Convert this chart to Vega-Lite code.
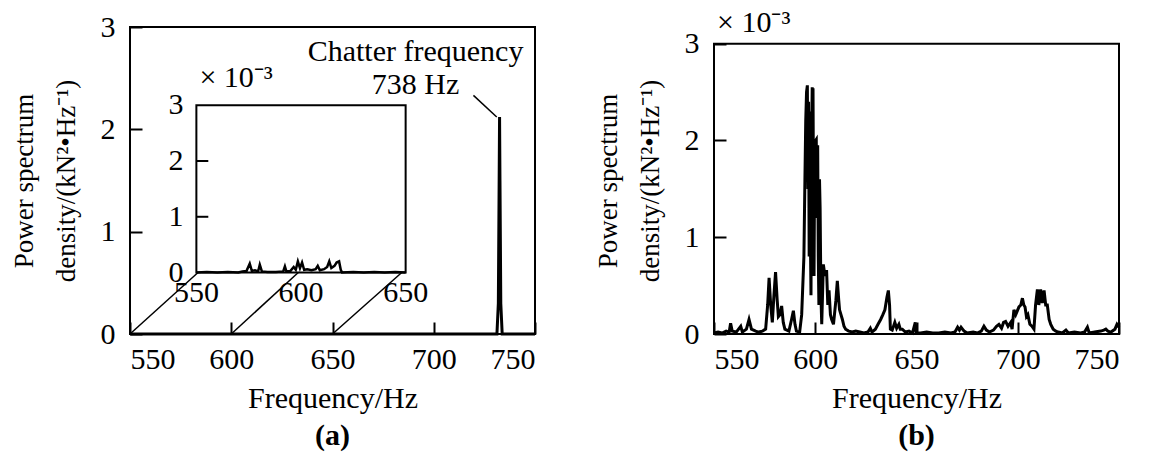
{
  "$schema": "https://vega.github.io/schema/vega-lite/v6.json",
  "background": "white",
  "padding": {"left": 9, "top": 7, "right": 0, "bottom": 0},
  "config": {
    "font": "Liberation Serif",
    "view": {"stroke": "black", "strokeWidth": 2},
    "axis": {
      "labelFont": "Liberation Serif", "labelFontSize": 30, "labelColor": "black",
      "titleFont": "Liberation Serif", "titleFontSize": 30, "titleFontWeight": "normal", "titleColor": "black",
      "grid": false, "domain": false, "tickColor": "black", "tickSize": -12, "tickWidth": 2, "format": "d"
    },
    "axisX": {"labelPadding": 22, "titlePadding": 9},
    "axisY": {"labelPadding": 27, "titlePadding": 20, "titleLineHeight": 42, "titleFontSize": 27},
    "text": {"font": "Liberation Serif", "fontSize": 30, "color": "black"},
    "title": {"font": "Liberation Serif", "fontSize": 30, "fontWeight": "bold", "color": "black"}
  },
  "datasets": {
    "a": [
      {"f": 550, "v": 0}, {"f": 600, "v": 0}, {"f": 650, "v": 0}, {"f": 700, "v": 0},
      {"f": 731.2, "v": 0}, {"f": 731.9, "v": 0.3}, {"f": 732.3, "v": 1.5}, {"f": 732.5, "v": 2.12},
      {"f": 732.7, "v": 1.5}, {"f": 733.1, "v": 0.3}, {"f": 733.8, "v": 0}, {"f": 750, "v": 0}
    ],
    "ainset": [
      {"f": 550, "v": 0.0}, {"f": 555, "v": 0.01}, {"f": 560, "v": 0.0}, {"f": 565, "v": 0.01},
      {"f": 570, "v": 0.0}, {"f": 572, "v": 0.02}, {"f": 574, "v": 0.03}, {"f": 575.5, "v": 0.16},
      {"f": 576.5, "v": 0.03}, {"f": 578, "v": 0.04}, {"f": 579.5, "v": 0.02}, {"f": 580.3, "v": 0.14},
      {"f": 581.3, "v": 0.02}, {"f": 584, "v": 0.01}, {"f": 588, "v": 0.01}, {"f": 591.5, "v": 0.02},
      {"f": 592.3, "v": 0.11}, {"f": 593, "v": 0.02}, {"f": 595, "v": 0.03}, {"f": 596.5, "v": 0.1},
      {"f": 597.5, "v": 0.05}, {"f": 598.5, "v": 0.2}, {"f": 599.5, "v": 0.08}, {"f": 600.5, "v": 0.18},
      {"f": 601.5, "v": 0.05}, {"f": 603, "v": 0.06}, {"f": 605, "v": 0.04}, {"f": 607, "v": 0.06},
      {"f": 608, "v": 0.12}, {"f": 609, "v": 0.04}, {"f": 611, "v": 0.06}, {"f": 612.5, "v": 0.1},
      {"f": 613.5, "v": 0.2}, {"f": 614.5, "v": 0.08}, {"f": 616, "v": 0.12}, {"f": 617, "v": 0.18},
      {"f": 618.2, "v": 0.2}, {"f": 619, "v": 0.05}, {"f": 619.6, "v": 0.0}, {"f": 625, "v": 0.01},
      {"f": 630, "v": 0.0}, {"f": 635, "v": 0.01}, {"f": 640, "v": 0.0}, {"f": 645, "v": 0.01},
      {"f": 650, "v": 0.0}
    ],
    "b": [
      {"f": 550, "v": 0.01}, {"f": 552, "v": 0.02}, {"f": 554, "v": 0.01}, {"f": 556, "v": 0.03},
      {"f": 557.5, "v": 0.02}, {"f": 558.2, "v": 0.11}, {"f": 559, "v": 0.03}, {"f": 561, "v": 0.02},
      {"f": 563.2, "v": 0.08}, {"f": 564, "v": 0.02}, {"f": 566, "v": 0.05}, {"f": 567.3, "v": 0.15},
      {"f": 568.5, "v": 0.05}, {"f": 570.6, "v": 0.03}, {"f": 572, "v": 0.02}, {"f": 573.9, "v": 0.03},
      {"f": 575.5, "v": 0.05}, {"f": 576.5, "v": 0.3}, {"f": 577.2, "v": 0.58}, {"f": 578, "v": 0.3},
      {"f": 578.8, "v": 0.12}, {"f": 579.6, "v": 0.4}, {"f": 580.4, "v": 0.64}, {"f": 581.2, "v": 0.35},
      {"f": 581.8, "v": 0.18}, {"f": 582.6, "v": 0.2}, {"f": 583.4, "v": 0.29}, {"f": 584.2, "v": 0.12},
      {"f": 585, "v": 0.05}, {"f": 587, "v": 0.03}, {"f": 588.3, "v": 0.15}, {"f": 589.2, "v": 0.24},
      {"f": 590, "v": 0.1}, {"f": 590.7, "v": 0.03}, {"f": 592.3, "v": 0.02}, {"f": 593.3, "v": 0.2},
      {"f": 594.4, "v": 0.8}, {"f": 594.9, "v": 1.6}, {"f": 595.3, "v": 2.2}, {"f": 595.7, "v": 2.5},
      {"f": 596.1, "v": 2.57}, {"f": 596.4, "v": 1.5}, {"f": 596.7, "v": 2.4}, {"f": 597.0, "v": 0.8},
      {"f": 597.3, "v": 2.3}, {"f": 597.6, "v": 1.0}, {"f": 597.9, "v": 0.4}, {"f": 598.2, "v": 2.0},
      {"f": 598.5, "v": 2.55}, {"f": 598.7, "v": 1.2}, {"f": 598.9, "v": 2.54}, {"f": 599.2, "v": 1.0},
      {"f": 599.4, "v": 0.6}, {"f": 599.7, "v": 1.8}, {"f": 599.9, "v": 1.4}, {"f": 600.2, "v": 2.0},
      {"f": 600.5, "v": 2.01}, {"f": 600.8, "v": 1.2}, {"f": 601.2, "v": 1.95}, {"f": 601.5, "v": 0.8},
      {"f": 601.8, "v": 0.3}, {"f": 602.1, "v": 1.6}, {"f": 602.4, "v": 1.3}, {"f": 602.8, "v": 0.4},
      {"f": 603.2, "v": 0.1}, {"f": 604, "v": 0.72},
      {"f": 604.8, "v": 0.6}, {"f": 605.6, "v": 0.66}, {"f": 606.2, "v": 0.3}, {"f": 606.8, "v": 0.45},
      {"f": 607.5, "v": 0.2}, {"f": 608.1, "v": 0.15}, {"f": 609, "v": 0.1}, {"f": 610.2, "v": 0.35},
      {"f": 610.9, "v": 0.55}, {"f": 611.6, "v": 0.35}, {"f": 612, "v": 0.25}, {"f": 613.4, "v": 0.15},
      {"f": 614.2, "v": 0.08}, {"f": 615, "v": 0.05}, {"f": 616.5, "v": 0.03}, {"f": 618.3, "v": 0.02},
      {"f": 620, "v": 0.03}, {"f": 622, "v": 0.02}, {"f": 624, "v": 0.01}, {"f": 626, "v": 0.02},
      {"f": 627.2, "v": 0.06}, {"f": 628, "v": 0.02}, {"f": 629.7, "v": 0.05}, {"f": 631, "v": 0.1},
      {"f": 632.3, "v": 0.15}, {"f": 633.4, "v": 0.2}, {"f": 634.4, "v": 0.25}, {"f": 635.4, "v": 0.38},
      {"f": 636.1, "v": 0.45}, {"f": 636.7, "v": 0.3}, {"f": 637.1, "v": 0.05}, {"f": 638, "v": 0.04},
      {"f": 639.3, "v": 0.12}, {"f": 640.2, "v": 0.06}, {"f": 641.3, "v": 0.1}, {"f": 642, "v": 0.05},
      {"f": 643, "v": 0.05}, {"f": 644.5, "v": 0.02}, {"f": 646.3, "v": 0.03}, {"f": 648, "v": 0.01},
      {"f": 649.4, "v": 0.12}, {"f": 649.8, "v": 0.01}, {"f": 652, "v": 0.01}, {"f": 655, "v": 0.02},
      {"f": 658, "v": 0.01}, {"f": 661, "v": 0.01}, {"f": 664, "v": 0.02}, {"f": 667, "v": 0.01},
      {"f": 669, "v": 0.02}, {"f": 670.3, "v": 0.07}, {"f": 671.2, "v": 0.04}, {"f": 672, "v": 0.07},
      {"f": 673.5, "v": 0.03}, {"f": 675, "v": 0.01}, {"f": 678, "v": 0.02}, {"f": 680, "v": 0.01},
      {"f": 682, "v": 0.03}, {"f": 683.3, "v": 0.08}, {"f": 684.5, "v": 0.04}, {"f": 686, "v": 0.02},
      {"f": 688, "v": 0.04}, {"f": 689.5, "v": 0.08}, {"f": 690.7, "v": 0.1}, {"f": 692, "v": 0.06},
      {"f": 693, "v": 0.12}, {"f": 694, "v": 0.13}, {"f": 695.2, "v": 0.08}, {"f": 696.5, "v": 0.12},
      {"f": 697.2, "v": 0.05}, {"f": 698.1, "v": 0.25}, {"f": 699, "v": 0.2}, {"f": 700.6, "v": 0.28},
      {"f": 701.5, "v": 0.3}, {"f": 702.3, "v": 0.37}, {"f": 703, "v": 0.3}, {"f": 703.6, "v": 0.28},
      {"f": 704.3, "v": 0.18}, {"f": 705, "v": 0.2}, {"f": 706, "v": 0.1}, {"f": 707, "v": 0.08},
      {"f": 708, "v": 0.05}, {"f": 708.8, "v": 0.3}, {"f": 709.7, "v": 0.46}, {"f": 710.4, "v": 0.3},
      {"f": 711.3, "v": 0.46}, {"f": 712.1, "v": 0.32}, {"f": 713, "v": 0.45}, {"f": 713.8, "v": 0.3},
      {"f": 714.6, "v": 0.3}, {"f": 715.5, "v": 0.15}, {"f": 716.3, "v": 0.1}, {"f": 717.5, "v": 0.05},
      {"f": 718.8, "v": 0.03}, {"f": 720, "v": 0.02}, {"f": 722, "v": 0.01}, {"f": 723.8, "v": 0.04},
      {"f": 725, "v": 0.01}, {"f": 728, "v": 0.02}, {"f": 731, "v": 0.01}, {"f": 733, "v": 0.02},
      {"f": 734.4, "v": 0.07}, {"f": 735.3, "v": 0.01}, {"f": 738, "v": 0.02}, {"f": 741, "v": 0.03},
      {"f": 742.5, "v": 0.04}, {"f": 743.5, "v": 0.05}, {"f": 744.5, "v": 0.03}, {"f": 746, "v": 0.02},
      {"f": 748, "v": 0.05}, {"f": 749, "v": 0.1}, {"f": 750, "v": 0.07}
    ],
    "conn": [
      {"f": 550, "v": 0, "f2": 583.6, "v2": 0.601},
      {"f": 600, "v": 0, "f2": 633.1, "v2": 0.601},
      {"f": 650, "v": 0, "f2": 684.2, "v2": 0.601}
    ],
    "leader": [{"f": 719.6, "v": 2.332, "f2": 731.1, "v2": 2.121}],
    "frame": [{"x0": 550, "x1": 650, "y0": 0, "y1": 3}],
    "bframe": [{"x0": 550, "x1": 750, "y0": 0, "y1": 3}],
    "iticks": [{"v": 1}, {"v": 2}],
    "ylabs": [{"v": 0}, {"v": 1}, {"v": 2}, {"v": 3}],
    "xlabs": [{"f": 550}, {"f": 600}, {"f": 650}]
  },
  "spacing": 52,
  "hconcat": [
    {
      "width": 405,
      "height": 307,
      "title": {"text": "(a)", "orient": "bottom", "anchor": "middle", "offset": 8},
      "resolve": {"scale": {"x": "independent", "y": "independent"}},
      "layer": [
        {
          "layer": [
            {
              "data": {"name": "a"},
              "mark": {"type": "line", "color": "black", "strokeWidth": 3},
              "encoding": {
                "x": {"field": "f", "type": "quantitative", "scale": {"domain": [550, 750], "nice": false, "zero": false},
                      "axis": {"values": [550, 600, 650, 700, 750], "title": "Frequency/Hz"}},
                "y": {"field": "v", "type": "quantitative", "scale": {"domain": [0, 3], "nice": false},
                      "axis": {"values": [0, 1, 2, 3], "title": ["Power spectrum", "density/(kN²•Hz⁻¹)"]}}
              }
            },
            {
              "data": {"name": "conn"},
              "mark": {"type": "rule", "color": "black", "strokeWidth": 1.5},
              "encoding": {
                "x": {"field": "f", "type": "quantitative"},
                "y": {"field": "v", "type": "quantitative"},
                "x2": {"field": "f2"},
                "y2": {"field": "v2"}
              }
            },
            {
              "data": {"name": "leader"},
              "mark": {"type": "rule", "color": "black", "strokeWidth": 1.5},
              "encoding": {
                "x": {"field": "f", "type": "quantitative"},
                "y": {"field": "v", "type": "quantitative"},
                "x2": {"field": "f2"},
                "y2": {"field": "v2"}
              }
            },
            {
              "data": {"values": [{}]},
              "mark": {"type": "text", "text": ["Chatter frequency", "738 Hz"], "align": "center", "baseline": "top", "lineHeight": 33, "fontSize": 30},
              "encoding": {
                "x": {"datum": 691, "type": "quantitative"},
                "y": {"datum": 2.9, "type": "quantitative"}
              }
            }
          ]
        },
        {
          "layer": [
            {
              "data": {"name": "frame"},
              "mark": {"type": "rect", "fill": "white", "stroke": "black", "strokeWidth": 2},
              "encoding": {
                "x": {"field": "x0", "type": "quantitative", "scale": {"domain": [518.28, 711.82], "nice": false, "zero": false}, "axis": null},
                "x2": {"field": "x1"},
                "y": {"field": "y0", "type": "quantitative", "scale": {"domain": [-1.102, 4.403], "nice": false, "zero": false}, "axis": null},
                "y2": {"field": "y1"}
              }
            },
            {
              "data": {"name": "ainset"},
              "mark": {"type": "line", "color": "black", "strokeWidth": 2.5},
              "encoding": {
                "x": {"field": "f", "type": "quantitative", "scale": {"domain": [518.28, 711.82], "nice": false, "zero": false}, "axis": null},
                "y": {"field": "v", "type": "quantitative", "scale": {"domain": [-1.102, 4.403], "nice": false, "zero": false}, "axis": null}
              }
            },
            {
              "data": {"name": "iticks"},
              "mark": {"type": "rule", "color": "black", "strokeWidth": 2},
              "encoding": {
                "x": {"datum": 550, "type": "quantitative", "scale": {"domain": [518.28, 711.82], "nice": false, "zero": false}, "axis": null},
                "x2": {"datum": 555.7},
                "y": {"field": "v", "type": "quantitative", "scale": {"domain": [-1.102, 4.403], "nice": false, "zero": false}, "axis": null}
              }
            },
            {
              "data": {"name": "ylabs"},
              "mark": {"type": "text", "align": "right", "baseline": "middle", "dx": -13, "fontSize": 30},
              "encoding": {
                "x": {"datum": 550, "type": "quantitative", "scale": {"domain": [518.28, 711.82], "nice": false, "zero": false}, "axis": null},
                "y": {"field": "v", "type": "quantitative", "scale": {"domain": [-1.102, 4.403], "nice": false, "zero": false}, "axis": null},
                "text": {"field": "v", "type": "quantitative", "format": "d"}
              }
            },
            {
              "data": {"name": "xlabs"},
              "mark": {"type": "text", "align": "center", "baseline": "middle", "dy": 20, "fontSize": 30},
              "encoding": {
                "x": {"field": "f", "type": "quantitative", "scale": {"domain": [518.28, 711.82], "nice": false, "zero": false}, "axis": null},
                "y": {"datum": 0, "type": "quantitative", "scale": {"domain": [-1.102, 4.403], "nice": false, "zero": false}, "axis": null},
                "text": {"field": "f", "type": "quantitative", "format": "d"}
              }
            },
            {
              "data": {"values": [{}]},
              "mark": {"type": "text", "text": "× 10⁻³", "align": "left", "baseline": "alphabetic", "dx": 3, "dy": -18, "fontSize": 30},
              "encoding": {
                "x": {"datum": 550, "type": "quantitative", "scale": {"domain": [518.28, 711.82], "nice": false, "zero": false}, "axis": null},
                "y": {"datum": 3, "type": "quantitative", "scale": {"domain": [-1.102, 4.403], "nice": false, "zero": false}, "axis": null}
              }
            }
          ]
        }
      ]
    },
    {
      "width": 405,
      "height": 307,
      "view": {"stroke": null},
      "title": {"text": "(b)", "orient": "bottom", "anchor": "middle", "offset": 8},
      "layer": [
        {
          "data": {"name": "bframe"},
          "mark": {"type": "rect", "fill": "white", "fillOpacity": 0, "stroke": "black", "strokeWidth": 2},
          "encoding": {
            "x": {"field": "x0", "type": "quantitative", "scale": {"domain": [550, 750], "nice": false, "zero": false},
                  "axis": {"values": [550, 600, 650, 700, 750], "title": "Frequency/Hz"}},
            "x2": {"field": "x1"},
            "y": {"field": "y0", "type": "quantitative", "scale": {"domain": [0, 3.173], "nice": false},
                  "axis": {"values": [0, 1, 2, 3], "title": ["Power spectrum", "density/(kN²•Hz⁻¹)"]}},
            "y2": {"field": "y1"}
          }
        },
        {
          "data": {"name": "b"},
          "mark": {"type": "line", "color": "black", "strokeWidth": 3},
          "encoding": {
            "x": {"field": "f", "type": "quantitative"},
            "y": {"field": "v", "type": "quantitative"}
          }
        },
        {
          "data": {"values": [{}]},
          "mark": {"type": "text", "text": "× 10⁻³", "align": "left", "baseline": "alphabetic", "dx": 3, "dy": -12, "fontSize": 30},
          "encoding": {
            "x": {"datum": 550, "type": "quantitative"},
            "y": {"datum": 3, "type": "quantitative"}
          }
        }
      ]
    }
  ]
}
